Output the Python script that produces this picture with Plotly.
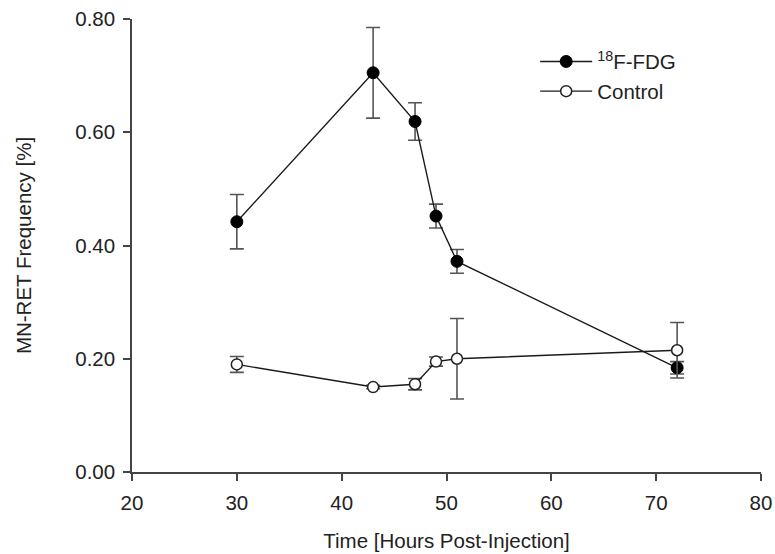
import plotly.graph_objects as go

# Data
time_fdg = [30, 43, 47, 49, 51, 72]
fdg_mean = [0.442, 0.705, 0.619, 0.452, 0.372, 0.184]
fdg_err = [0.048, 0.080, 0.033, 0.021, 0.021, 0.011]

time_ctrl = [30, 43, 47, 49, 51, 72]
ctrl_mean = [0.190, 0.150, 0.155, 0.195, 0.200, 0.215]
ctrl_err = [0.014, 0.003, 0.010, 0.008, 0.071, 0.049]

x_ticks = [20, 30, 40, 50, 60, 70, 80]
y_ticks = [0.0, 0.2, 0.4, 0.6, 0.8]
y_ticklabels = ["0.00", "0.20", "0.40", "0.60", "0.80"]

FONT = "Liberation Sans, Arial, sans-serif"
FS = 20.5
LINE_COL = "#1a1a1a"
ERR_COL = "#555555"

fig = go.Figure()
fig.add_trace(go.Scatter(
    x=time_fdg, y=fdg_mean, name="<sup>18</sup>F-FDG", mode="lines+markers",
    line=dict(color=LINE_COL, width=1.4),
    marker=dict(symbol="circle", size=12, color="black", line=dict(color="black", width=1)),
    error_y=dict(type="data", array=fdg_err, visible=True, color=ERR_COL, thickness=1.6, width=7),
))
fig.add_trace(go.Scatter(
    x=time_ctrl, y=ctrl_mean, name="Control", mode="lines+markers",
    line=dict(color=LINE_COL, width=1.4),
    marker=dict(symbol="circle", size=11, color="white", line=dict(color="#222222", width=1.5)),
    error_y=dict(type="data", array=ctrl_err, visible=True, color=ERR_COL, thickness=1.6, width=7),
))

fig.update_layout(
    width=775, height=554,
    margin=dict(l=132, r=14, t=19, b=82),
    paper_bgcolor="white", plot_bgcolor="white",
    font=dict(family=FONT, size=FS, color="#222222"),
    showlegend=True,
    legend=dict(
        x=0.641, y=0.95, xanchor="left", yanchor="top",
        bgcolor="rgba(0,0,0,0)", font=dict(size=FS, family=FONT, color="#222222"),
        itemwidth=52, tracegroupgap=0, traceorder="normal",
    ),
    xaxis=dict(
        range=[20, 80], tickvals=x_ticks, showgrid=False, zeroline=False,
        showline=True, linecolor="#444444", linewidth=1.5,
        ticks="outside", ticklen=7, tickwidth=1.5, tickcolor="#444444",
        ticklabelstandoff=5, automargin=False,
        title=dict(text="Time [Hours Post-Injection]", standoff=20,
                   font=dict(size=FS, family=FONT)),
        tickfont=dict(size=FS, family=FONT),
    ),
    yaxis=dict(
        range=[0, 0.8], tickvals=y_ticks, ticktext=y_ticklabels, showgrid=False, zeroline=False,
        showline=True, linecolor="#444444", linewidth=1.5,
        ticks="outside", ticklen=7, tickwidth=1.5, tickcolor="#444444",
        ticklabelstandoff=4, automargin=False,
        title=dict(text="MN-RET Frequency [%]", standoff=38,
                   font=dict(size=FS, family=FONT)),
        tickfont=dict(size=FS, family=FONT),
    ),
)

fig.write_html("out.html")
